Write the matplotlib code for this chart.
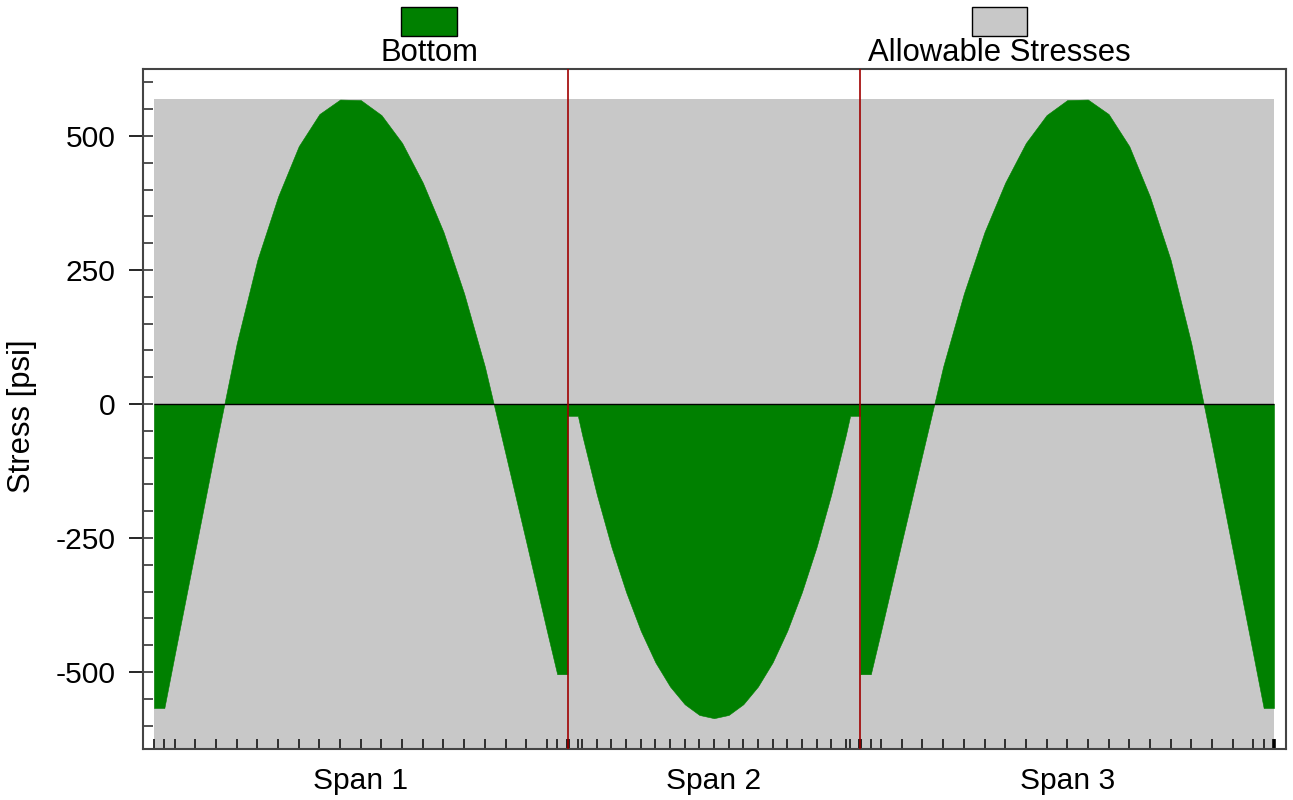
import matplotlib
matplotlib.use("Agg")
import matplotlib.pyplot as plt
import matplotlib.transforms as mtransforms
from matplotlib.patches import Rectangle
from matplotlib.ticker import MultipleLocator
import numpy as np

plt.rcParams['font.family'] = ['Liberation Sans', 'DejaVu Sans']

# ---- data -------------------------------------------------------------
span_names = ["Span 1", "Span 2", "Span 3"]
span_lengths = [120.0, 85.0, 120.0]          # ft

# analysis stations along each span (ft from the left support)
stations_1 = [0, 3, 6, 12, 18, 24, 30, 36, 42, 48, 54, 60, 66, 72, 78, 84,
              90, 96, 102, 108, 114, 117, 120]
stations_2 = [0, 3, 4.25, 8.5, 12.75, 17, 21.25, 25.5, 29.75, 34, 38.25,
              42.5, 46.75, 51, 55.25, 59.5, 63.75, 68, 72.25, 76.5, 80.75,
              82, 85]
stations_3 = [0, 3, 6, 12, 18, 24, 30, 36, 42, 48, 54, 60, 66, 72, 78, 84,
              90, 96, 102, 108, 114, 117, 120]

# bottom-fibre stress (psi)
bottom_1 = [-567, -567, -468, -272, -76, 113, 269, 387, 481, 541, 568, 567,
            539, 487, 413, 321, 206, 70, -93, -257, -423, -504, -504]
bottom_2 = [-22, -22, -58, -169, -267, -351, -423, -482, -527, -560, -580,
            -586, -580, -560, -527, -482, -423, -351, -267, -169, -58, -22,
            -22]
bottom_3 = [-504, -504, -423, -257, -93, 70, 206, 321, 413, 487, 539, 567,
            568, 541, 481, 387, 269, 113, -76, -272, -468, -567, -567]

allow_tension = 569.0       # psi
allow_compression = -2250.0  # psi

# ---- figure -----------------------------------------------------------
W, H = 1293, 800
fig = plt.figure(figsize=(W / 100, H / 100), dpi=100)
ax = fig.add_axes([143 / W, 1 - 749 / H, (1286 - 143) / W, (749 - 69) / H])

green = "#008000"
grey = "#c8c8c8"
fs = 21.6
fs_big = 22.3

starts = np.concatenate([[0.0], np.cumsum(span_lengths)])
total = starts[-1]

# allowable stress band
ax.fill_between([0, total], allow_compression, allow_tension,
                color=grey, lw=0, zorder=0)

# bottom stress per span
all_st = [stations_1, stations_2, stations_3]
all_val = [bottom_1, bottom_2, bottom_3]
tick_pos = []
for s0, st, val in zip(starts[:-1], all_st, all_val):
    x = s0 + np.asarray(st, dtype=float)
    ax.fill_between(x, 0, val, color=green, lw=0.4, edgecolor=green, zorder=1)
    tick_pos.extend(x.tolist())

# zero line and supports
ax.hlines(0, 0, total, color="black", lw=1.0, zorder=3)
for xs in starts[1:-1]:
    ax.axvline(xs, color="#a00000", lw=1.2, zorder=4)

ax.set_xlim(-(154 - 143) / 3.446, total + (1286 - 1274) / 3.446)
ax.set_ylim(-643.5, 625)

# y ticks
ax.yaxis.set_major_locator(MultipleLocator(250))
ax.yaxis.set_minor_locator(MultipleLocator(50))
ax.yaxis.remove_overlapping_locs = False
ax.tick_params(axis="y", which="major", direction="out", length=10,
               width=1.2, color="black", labelsize=fs, pad=10)
ax.tick_params(axis="y", which="minor", direction="in", length=7.2,
               width=1.2, color="#333333")
ax.set_yticklabels([f"{int(v)}" for v in ax.get_yticks()])

# x ticks at the analysis stations
ax.set_xticks(sorted(set(round(t, 3) for t in tick_pos)))
ax.set_xticklabels([])
ax.set_xticks(starts[1:], minor=True)
ax.xaxis.remove_overlapping_locs = False
ax.tick_params(axis="x", which="major", direction="in", length=7.2,
               width=1.3, color="#222222")
ax.tick_params(axis="x", which="minor", direction="in", length=7.2,
               width=2.6, color="black")

for sp in ax.spines.values():
    sp.set_color("#444444")
    sp.set_linewidth(1.5)

# span labels
trans = mtransforms.blended_transform_factory(ax.transData, ax.transAxes)
for s0, L, name in zip(starts[:-1], span_lengths, span_names):
    ax.text(s0 + L / 2, -32 / 680, name, transform=trans, ha="center",
            va="center", fontsize=fs)

# axis title
fig.text(22 / W, 1 - 416 / H, "Stress [psi]", rotation=90, ha="center",
         va="center", fontsize=fs_big)

# legend
for x0, x1, col, lab in [(401, 457, green, "Bottom"),
                         (972, 1027, grey, "Allowable Stresses")]:
    fig.add_artist(Rectangle((x0 / W, 1 - 36 / H), (x1 - x0) / W, 29 / H,
                             transform=fig.transFigure, facecolor=col,
                             edgecolor="black", lw=1.0))
    fig.text((x0 + x1) / 2 / W, 1 - 53 / H, lab, ha="center", va="center",
             fontsize=fs_big)

fig.savefig("out.png", dpi=100)
